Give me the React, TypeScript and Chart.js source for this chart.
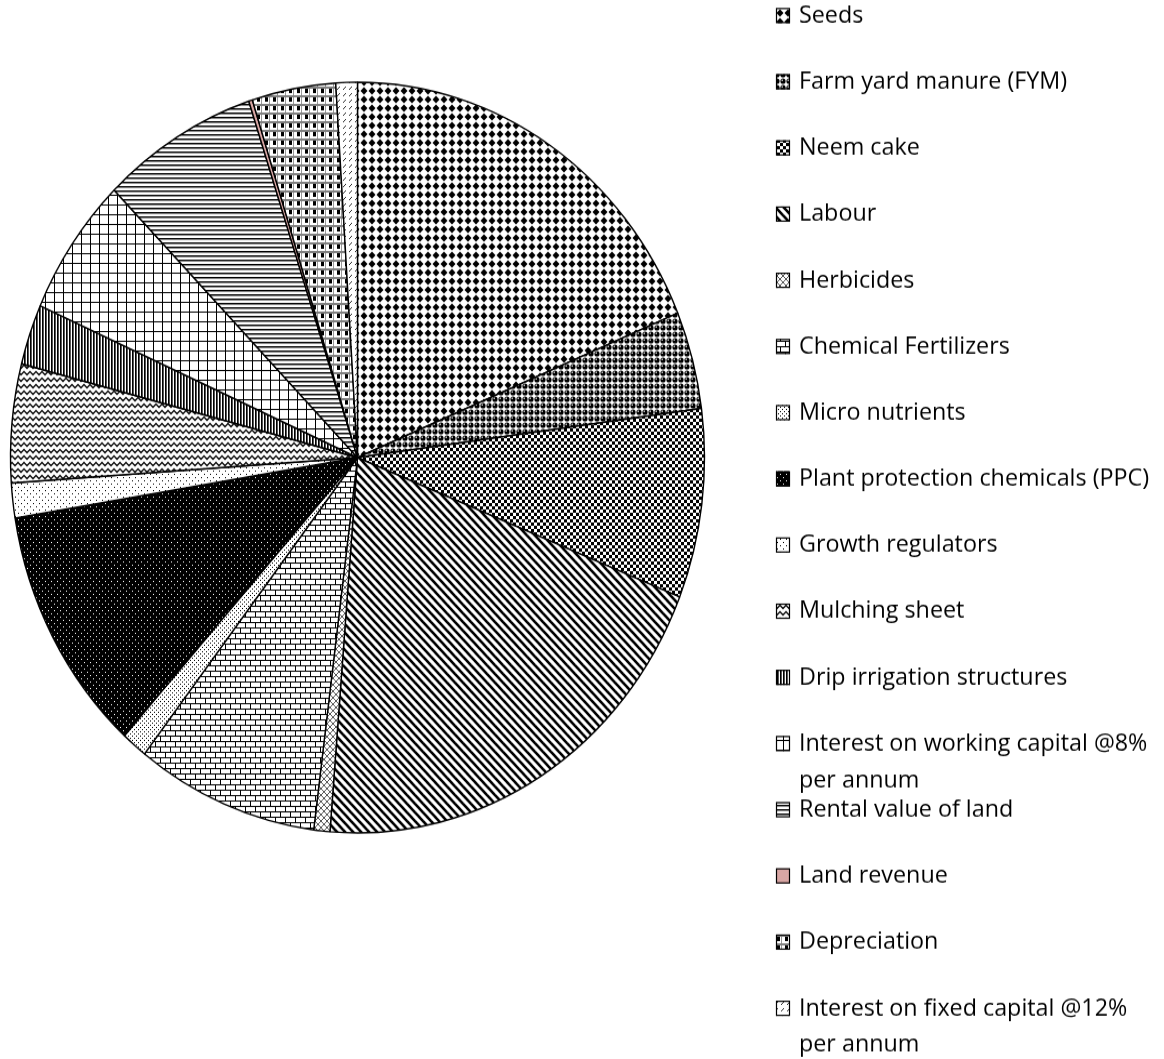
import React, { useEffect, useRef } from "react";
import { Chart, registerables } from "chart.js";

Chart.register(...registerables);

// ---- Data (share of total cost, %) ----
const categories: string[] = [
  "Seeds",
  "Farm yard manure (FYM)",
  "Neem cake",
  "Labour",
  "Herbicides",
  "Chemical Fertilizers",
  "Micro nutrients",
  "Plant protection chemicals (PPC)",
  "Growth regulators",
  "Mulching sheet",
  "Drip irrigation structures",
  "Interest on working capital @8% per annum",
  "Rental value of land",
  "Land revenue",
  "Depreciation",
  "Interest on fixed capital @12% per annum",
];

const costShare: number[] = [
  18.7, 4.2, 8.15, 20.2, 0.75, 8.5, 1.2, 10.7, 1.5, 5.1, 2.6, 6.0, 7.3, 0.17, 3.9, 1.0,
];

// ---- Layout / style constants ----
const SCREEN_W = 1164;
const SCREEN_H = 1059;
const STRETCH_Y = 1.082; // original picture is stretched vertically
const CANVAS_H = Math.round(SCREEN_H / STRETCH_Y);
const FONT = "21px 'Open Sans'";
const TEXT_SCALE_X = 1.11;

type Painter = (c: CanvasRenderingContext2D) => void;

function tile(w: number, h: number, paint: Painter, bg = "#ffffff"): CanvasPattern {
  const cv = document.createElement("canvas");
  cv.width = w;
  cv.height = h;
  const c = cv.getContext("2d") as CanvasRenderingContext2D;
  c.fillStyle = bg;
  c.fillRect(0, 0, w, h);
  paint(c);
  return c.createPattern(cv, "repeat") as CanvasPattern;
}

function buildPatterns(): (CanvasPattern | string)[] {
  const seeds = tile(8, 8, (c) => {
    c.fillStyle = "#000";
    c.beginPath();
    c.moveTo(4, 0.5);
    c.lineTo(7.5, 4);
    c.lineTo(4, 7.5);
    c.lineTo(0.5, 4);
    c.closePath();
    c.fill();
  });
  const fym = tile(6, 6, (c) => {
    c.fillStyle = "#000";
    c.beginPath();
    c.arc(3, 3, 2.6, 0, Math.PI * 2);
    c.fill();
    c.fillStyle = "#bbb";
    c.fillRect(1.5, 1.5, 1.5, 1.5);
  });
  const neem = tile(6, 6, (c) => {
    c.fillStyle = "#000";
    c.fillRect(0, 0, 3, 3);
    c.fillRect(3, 3, 3, 3);
  });
  const labour = tile(8, 8, (c) => {
    c.strokeStyle = "#000";
    c.lineWidth = 2.6;
    for (const k of [-8, 0, 8]) {
      c.beginPath();
      c.moveTo(k - 1, -1);
      c.lineTo(k + 9, 9);
      c.stroke();
    }
  });
  const herb = tile(6, 6, (c) => {
    c.strokeStyle = "#444";
    c.lineWidth = 0.9;
    c.beginPath();
    c.moveTo(0, 0);
    c.lineTo(6, 6);
    c.moveTo(6, 0);
    c.lineTo(0, 6);
    c.stroke();
  });
  const chem = tile(10, 10, (c) => {
    c.fillStyle = "#000";
    c.fillRect(0, 0, 10, 1);
    c.fillRect(0, 5, 10, 1);
    c.fillRect(0, 0, 1, 5);
    c.fillRect(5, 5, 1, 5);
  });
  const micro = tile(4, 4, (c) => {
    c.fillStyle = "#000";
    c.fillRect(0, 0, 1, 1);
    c.fillRect(2, 2, 1, 1);
  });
  const ppc = tile(6, 6, (c) => {
    c.fillStyle = "#fff";
    c.fillRect(0, 0, 1, 1);
    c.fillRect(3, 3, 1, 1);
  }, "#000");
  const growth = tile(6, 6, (c) => {
    c.fillStyle = "#000";
    c.fillRect(0, 0, 1, 1);
    c.fillRect(3, 3, 1, 1);
  });
  const mulch = tile(6, 6, (c) => {
    c.strokeStyle = "#111";
    c.lineWidth = 1.3;
    c.beginPath();
    c.moveTo(-1.5, 3);
    c.lineTo(0, 1.5);
    c.lineTo(3, 4.5);
    c.lineTo(6, 1.5);
    c.lineTo(7.5, 3);
    c.stroke();
  });
  const drip = tile(3, 1, (c) => {
    c.fillStyle = "#000";
    c.fillRect(0, 0, 1, 1);
    c.fillStyle = "#555";
    c.fillRect(1, 0, 1, 1);
  });
  const iwc = tile(9, 9, (c) => {
    c.fillStyle = "#000";
    c.fillRect(0, 0, 9, 1);
    c.fillRect(0, 0, 1, 9);
  });
  const rental = tile(1, 4, (c) => {
    c.fillStyle = "#000";
    c.fillRect(0, 0, 1, 1);
    c.fillStyle = "#888";
    c.fillRect(0, 1, 1, 1);
  });
  const landRevenue = "#D8A6A4";
  const dep = tile(8, 8, (c) => {
    c.fillStyle = "#808080";
    c.fillRect(0, 0, 8, 2);
    c.fillStyle = "#000";
    c.fillRect(1, 2, 3, 4);
    c.fillStyle = "#999";
    c.fillRect(5, 2, 1, 6);
  });
  const ifc = tile(6, 6, (c) => {
    c.strokeStyle = "#333";
    c.lineWidth = 1;
    c.beginPath();
    c.moveTo(1, 5);
    c.lineTo(4, 2);
    c.stroke();
  });
  return [
    seeds, fym, neem, labour, herb, chem, micro, ppc, growth, mulch, drip, iwc, rental,
    landRevenue, dep, ifc,
  ];
}

const legendPlugin = {
  id: "sideLegend",
  afterDraw(chart: any) {
    const ctx: CanvasRenderingContext2D = chart.ctx;
    const fills = chart.data.datasets[0].backgroundColor as (CanvasPattern | string)[];
    const labels = chart.data.labels as string[];
    const boxX = 776;
    const textX = 799;
    const firstY = 15 / STRETCH_Y;
    const step = 66.2 / STRETCH_Y;
    const lineH = 36.5 / STRETCH_Y;
    const maxW = SCREEN_W - textX - 2;
    ctx.save();
    ctx.font = FONT;
    ctx.textBaseline = "middle";
    labels.forEach((label, i) => {
      const y = firstY + step * i;
      // box
      ctx.fillStyle = fills[i] as any;
      ctx.fillRect(boxX, y - 6.5, 14, 14);
      ctx.strokeStyle = "#000";
      ctx.lineWidth = 1.2;
      ctx.strokeRect(boxX + 0.5, y - 6, 13, 13);
      // text with wrapping
      const words = label.split(" ");
      const lines: string[] = [];
      let cur = "";
      for (const w of words) {
        const test = cur ? cur + " " + w : w;
        if (cur && ctx.measureText(test).width * TEXT_SCALE_X > maxW) {
          lines.push(cur);
          cur = w;
        } else {
          cur = test;
        }
      }
      if (cur) lines.push(cur);
      ctx.fillStyle = "#000";
      lines.forEach((ln, j) => {
        ctx.save();
        ctx.translate(textX, y + 1 + j * lineH);
        ctx.scale(TEXT_SCALE_X, 1);
        ctx.fillText(ln, 0, 0);
        ctx.restore();
      });
    });
    ctx.restore();
  },
};

export default function App() {
  const ref = useRef<HTMLCanvasElement | null>(null);
  useEffect(() => {
    if (!ref.current) return;
    const chart = new Chart(ref.current, {
      type: "pie",
      data: {
        labels: categories,
        datasets: [
          {
            data: costShare,
            backgroundColor: buildPatterns() as any,
            borderColor: "#000",
            borderWidth: 1.4,
          },
        ],
      },
      options: {
        responsive: false,
        animation: false,
        radius: 347,
        layout: { padding: { left: 0, top: 0, right: SCREEN_W - 715, bottom: CANVAS_H - 846 } },
        plugins: { legend: { display: false }, tooltip: { enabled: false } },
      } as any,
      plugins: [legendPlugin],
    });
    return () => chart.destroy();
  }, []);
  return (
    <div style={{ position: "absolute", left: 0, top: 0, width: SCREEN_W, height: SCREEN_H, background: "#fff" }}>
      <canvas
        ref={ref}
        width={SCREEN_W}
        height={CANVAS_H}
        style={{ display: "block", width: SCREEN_W + "px", height: SCREEN_H + "px" }}
      />
    </div>
  );
}
